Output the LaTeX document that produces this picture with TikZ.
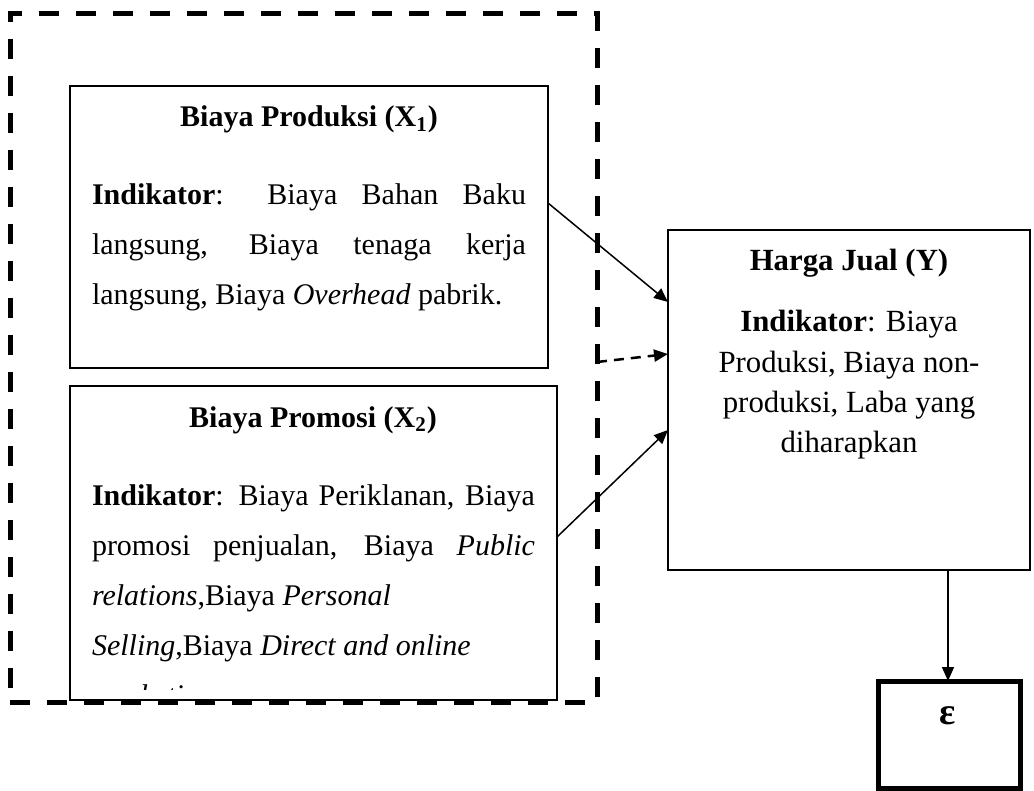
\documentclass[tikz,border=0pt]{standalone}
\usepackage{fontspec}
\setmainfont{Liberation Serif}
\usetikzlibrary{arrows.meta}

\begin{document}
\begin{tikzpicture}[x=0.5pt, y=-0.5pt,
    every node/.style={font=\fontsize{15}{18}\selectfont, inner sep=0pt, outer sep=0pt},
    box/.style={draw, line width=1pt, anchor=north west},
    txt/.style={anchor=base west},
    head/.style={anchor=base, font=\fontsize{15}{18}\selectfont\bfseries},
    mid/.style={anchor=base, font=\fontsize{15.4}{18}\selectfont},
    arr/.style={-{Triangle[length=7pt,width=6pt]}, line width=0.75pt}]

    \useasboundingbox (0,0) rectangle (1034,791);

    % Boxes
    \node at (10,14) (frame) [box, line width=2.5pt, dash pattern=on 10pt off 8.5pt,
        minimum width=293.5pt, minimum height=344pt] {};
    \node at (70,86) (prod) [box, minimum width=239pt, minimum height=141pt] {};
    \node at (70,386) (promo) [box, minimum width=243.5pt, minimum height=157pt] {};
    \node at (668,230) (harga) [box, line width=1.2pt, minimum width=181pt, minimum height=170pt] {};
    \node at (878,681) (eps) [box, line width=2.5pt, minimum width=71pt, minimum height=53.5pt] {};

    % Biaya Produksi
    \node at (309,127) (prodhead) [head] {Biaya Produksi (X\textsubscript{1})};
    \node at (92,205) (prod1) [txt] {\makebox[217pt][s]{\textbf{Indikator}: Biaya Bahan Baku}};
    \node at (92,255) (prod2) [txt] {\makebox[217pt][s]{langsung, Biaya tenaga kerja}};
    \node at (92,305) (prod3) [txt] {langsung, Biaya \textit{Overhead} pabrik.};

    % Biaya Promosi
    \node at (313,427) (promohead) [head] {Biaya Promosi (X\textsubscript{2})};
    \begin{scope}
        \clip (70,386) rectangle (557,689);
        \node at (92,505) (promo1) [txt] {\makebox[221.5pt][s]{\textbf{Indikator}: Biaya Periklanan, Biaya}};
        \node at (92,555) (promo2) [txt] {\makebox[221.5pt][s]{promosi penjualan, Biaya \textit{Public}}};
        \node at (92,605) (promo3) [txt] {\textit{relations},Biaya \textit{Personal}};
        \node at (92,655) (promo4) [txt] {\textit{Selling},Biaya \textit{Direct and online}};
        \node at (92,705) (promo5) [txt] {\textit{marketing}};
    \end{scope}

    % Harga Jual
    \node at (849,271) (hargahead) [head, font=\fontsize{15.4}{18}\selectfont\bfseries] {Harga Jual (Y)};
    \node at (849,332) (harga1) [mid] {\textbf{Indikator}: Biaya};
    \node at (849,372) (harga2) [mid] {Produksi, Biaya non-};
    \node at (849,412) (harga3) [mid] {produksi, Laba yang};
    \node at (849,452) (harga4) [mid] {diharapkan};

    % Error term
    \node at (948,716) (epsilon) [font=\fontsize{19}{22}\selectfont\bfseries] {ε};

    % Arrows
    \draw[arr] ([yshift=12pt]prod.east) -- ([yshift=49pt]harga.west);
    \draw[arr, line width=1.25pt, dash pattern=on 5pt off 3.5pt] ([yshift=-2pt]frame.east) -- ([yshift=23pt]harga.west);
    \draw[arr] ([yshift=3pt]promo.east) -- ([yshift=-15pt]harga.west);
    \draw[arr] (harga.south -| epsilon) -- (eps.north -| epsilon);

\end{tikzpicture}
\end{document}
